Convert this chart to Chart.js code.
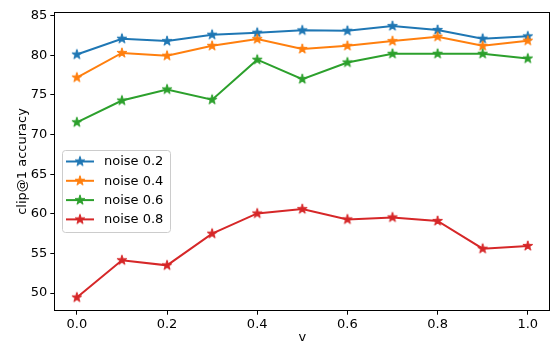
<!DOCTYPE html>
<html>
<head>
<meta charset="utf-8">
<script src="https://cdn.jsdelivr.net/npm/chart.js@4"></script>
<style>
  html, body { margin: 0; padding: 0; background: #fff; }
  #wrap { width: 551px; height: 344px; position: relative; }
</style>
</head>
<body>
<div id="wrap"><canvas id="c" width="551" height="344"></canvas></div>
<script>
const vValues = [0.0, 0.1, 0.2, 0.3, 0.4, 0.5, 0.6, 0.7, 0.8, 0.9, 1.0];
const noise02 = [80.1, 82.1, 81.8, 82.6, 82.85, 83.15, 83.1, 83.7, 83.2, 82.1, 82.4];
const noise04 = [77.2, 80.3, 79.95, 81.2, 82.05, 80.8, 81.2, 81.8, 82.35, 81.2, 81.85];
const noise06 = [71.55, 74.3, 75.7, 74.4, 79.45, 77.0, 79.1, 80.2, 80.2, 80.2, 79.6];
const noise08 = [49.45, 54.15, 53.5, 57.5, 60.05, 60.6, 59.3, 59.55, 59.1, 55.6, 55.95];
const seriesLabels = ['noise 0.2', 'noise 0.4', 'noise 0.6', 'noise 0.8'];
const xTickValues = [0.0, 0.2, 0.4, 0.6, 0.8, 1.0];
const yTickValues = [50, 55, 60, 65, 70, 75, 80, 85];
const colors = ['#1f77b4', '#ff7f0e', '#2ca02c', '#d62728'];

const FONT = 'DejaVu Sans';

function makeStar(color) {
  const s = 14, cv = document.createElement('canvas');
  cv.width = s; cv.height = s;
  const g = cv.getContext('2d');
  const cx = s / 2, cy = s / 2, R = 5.2, r = R * 0.382;
  g.beginPath();
  for (let i = 0; i < 10; i++) {
    const rad = i % 2 === 0 ? R : r;
    const a = -Math.PI / 2 + i * Math.PI / 5;
    const px = cx + rad * Math.cos(a), py = cy + rad * Math.sin(a);
    if (i === 0) g.moveTo(px, py); else g.lineTo(px, py);
  }
  g.closePath();
  g.fillStyle = color; g.fill();
  g.strokeStyle = color; g.lineWidth = 1; g.lineJoin = 'miter'; g.stroke();
  return cv;
}
const stars = colors.map(makeStar);

const allSeries = [noise02, noise04, noise06, noise08];
const datasets = allSeries.map((vals, i) => ({
  label: seriesLabels[i],
  data: vValues.map((v, j) => ({ x: v, y: vals[j] })),
  borderColor: colors[i],
  backgroundColor: colors[i],
  borderWidth: 2,
  pointStyle: stars[i],
  pointRadius: 5,
  pointHoverRadius: 5,
  tension: 0,
  clip: false,
  order: 3 - i
}));

const framePlugin = {
  id: 'frame',
  afterDraw(chart) {
    const { ctx, chartArea: a } = chart;
    ctx.save();
    ctx.strokeStyle = '#000';
    ctx.lineWidth = 1;
    ctx.strokeRect(Math.round(a.left) + 0.5, Math.round(a.top) + 0.5,
      Math.round(a.right - a.left) - 1, Math.round(a.bottom - a.top));
    // legend
    const lx = 62, ly = 150, lw = 108, lh = 82;
    ctx.beginPath();
    if (ctx.roundRect) ctx.roundRect(lx + 0.5, ly + 0.5, lw, lh, 3);
    else ctx.rect(lx + 0.5, ly + 0.5, lw, lh);
    ctx.fillStyle = 'rgba(255,255,255,0.8)';
    ctx.fill();
    ctx.strokeStyle = '#cccccc';
    ctx.stroke();
    ctx.font = '13px "' + FONT + '"';
    ctx.textBaseline = 'middle';
    ctx.textAlign = 'left';
    for (let i = 0; i < seriesLabels.length; i++) {
      const y = 161.5 + i * 19.3;
      ctx.strokeStyle = colors[i];
      ctx.lineWidth = 2;
      ctx.beginPath();
      ctx.moveTo(66, y); ctx.lineTo(94, y); ctx.stroke();
      ctx.drawImage(stars[i], 80 - 7, y - 7);
      ctx.fillStyle = '#000';
      ctx.fillText(seriesLabels[i], 104, y + 0.5);
    }
    ctx.restore();
  }
};

new Chart(document.getElementById('c'), {
  type: 'line',
  data: { datasets },
  options: {
    responsive: false,
    animation: false,
    events: [],
    layout: { autoPadding: false, padding: { top: 12.3, right: 0.7, left: 0, bottom: 0 } },
    plugins: { legend: { display: false }, tooltip: { enabled: false } },
    scales: {
      x: {
        type: 'linear',
        min: -0.05, max: 1.05,
        afterBuildTicks: s => { s.ticks = xTickValues.map(v => ({ value: v })); },
        afterFit: s => { s.height = 33.3; s.paddingLeft = 0; s.paddingRight = 0; },
        ticks: {
          color: '#000', font: { family: FONT, size: 13 }, padding: 2,
          maxRotation: 0, autoSkip: false,
          callback: v => Number(v).toFixed(1)
        },
        grid: { drawOnChartArea: false, drawTicks: true, tickLength: 4, color: '#000', tickWidth: 1 },
        border: { display: false },
        title: { display: true, text: 'v', color: '#000', font: { family: FONT, size: 13, lineHeight: 1 }, padding: { top: 0, bottom: 0 } }
      },
      y: {
        type: 'linear',
        min: 47.78, max: 85.43,
        afterBuildTicks: s => { s.ticks = yTickValues.map(v => ({ value: v })); },
        afterFit: s => { s.width = 54.3; s.paddingTop = 0; s.paddingBottom = 0; },
        ticks: { color: '#000', font: { family: FONT, size: 13 }, padding: 3, autoSkip: false },
        grid: { drawOnChartArea: false, drawTicks: true, tickLength: 4, color: '#000', tickWidth: 1 },
        border: { display: false },
        title: { display: true, text: 'clip@1 accuracy', color: '#000', font: { family: FONT, size: 13, lineHeight: 1 }, padding: { top: 16, bottom: 0 } }
      }
    }
  },
  plugins: [framePlugin]
});
</script>
</body>
</html>
